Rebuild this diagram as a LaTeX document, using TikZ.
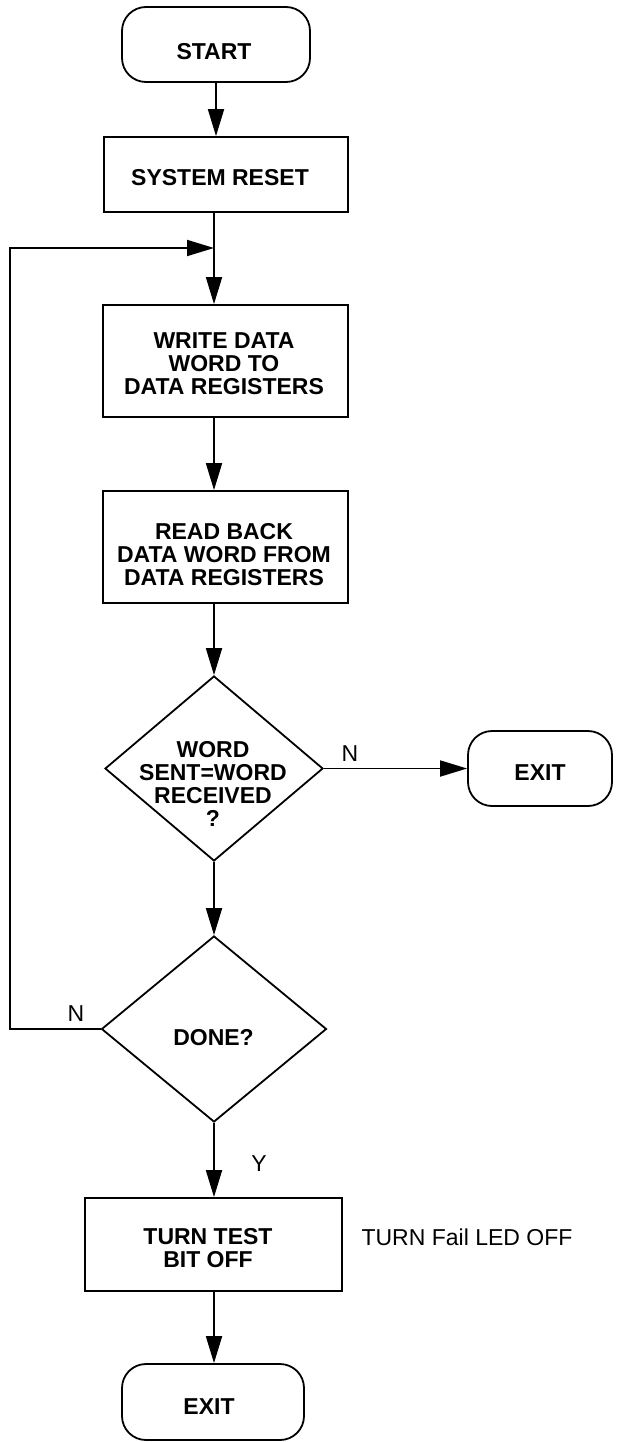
\documentclass[tikz,border=0pt]{standalone}
\usepackage{fontspec}
\setmainfont{Liberation Sans}
\usetikzlibrary{shapes.geometric,arrows.meta}
\begin{document}
\begin{tikzpicture}[x=1pt,y=-1pt,
  line width=1.8pt,
  box/.style={draw, rectangle, inner sep=0pt},
  term/.style={draw, rectangle, rounded corners=24pt, inner sep=0pt},
  dec/.style={draw, diamond, inner sep=0pt},
  lbl/.style={font=\bfseries\fontsize{23}{23}\selectfont, align=center, inner sep=0pt},
  tag/.style={font=\fontsize{23}{23}\selectfont, inner sep=0pt},
  flow/.style={-{Triangle[length=27pt,width=16pt]}}
]
\path[use as bounding box] (0,0) rectangle (626,1442);

% shapes
\node[term, minimum width=188pt, minimum height=75pt] (start) at (216,44.5) {};
\node[box, minimum width=244pt, minimum height=75pt] (reset) at (226,174.5) {};
\node[box, minimum width=245pt, minimum height=112pt] (write) at (225.5,361) {};
\node[box, minimum width=245pt, minimum height=112pt] (read) at (225.5,547) {};
\node[dec, minimum width=218pt, minimum height=185pt] (d1) at (214,768.5) {};
\node[term, minimum width=144pt, minimum height=75pt] (exit1) at (540,768.5) {};
\node[dec, minimum width=225pt, minimum height=186pt] (d2) at (214,1029) {};
\node[box, minimum width=257pt, minimum height=93pt] (turn) at (213.5,1244.5) {};
\node[term, minimum width=182pt, minimum height=76pt] (exit2) at (213,1402) {};

% texts
\node[lbl] (startT) at (214,51.5) {START};
\node[lbl] (resetT) at (220,178) {SYSTEM RESET};
\node[lbl] (writeT) at (224,364) {WRITE DATA\\WORD TO\\DATA REGISTERS};
\node[lbl] (readT) at (224,554.5) {READ BACK\\DATA WORD FROM\\DATA REGISTERS};
\node[lbl] (d1T) at (213,784) {WORD\\SENT=WORD\\RECEIVED\\?};
\node[lbl] (exit1T) at (540,773) {EXIT};
\node[lbl] (d2T) at (213.5,1037.5) {DONE?};
\node[lbl] (turnT) at (208,1248) {TURN TEST\\BIT OFF};
\node[lbl] (exit2T) at (209,1406.5) {EXIT};

\node[tag] (nA) at (350,754) {N};
\node[tag] (nB) at (76,1014) {N};
\node[tag] (yA) at (259,1164) {Y};
\node[tag] (note) at (467,1237) {TURN Fail LED OFF};

% connectors
\coordinate (trunk) at (214,0);
\coordinate (merge) at (214,248);
\coordinate (lc) at (10,248);
\draw[flow] (start.south) -- (start.south |- reset.north);
\draw[flow] (trunk |- reset.south) -- (trunk |- write.north);
\draw[flow] (trunk |- write.south) -- (trunk |- read.north);
\draw[flow] (trunk |- read.south) -- (d1.north);
\draw[flow] (d1.east) -- (exit1.west);
\draw[flow] (d1.south) -- (d2.north);
\draw[flow] (d2.south) -- (d2.south |- turn.north);
\draw[flow] (turn.south -| d2.south) -- (d2.south |- exit2.north);
\draw[flow] (d2.west) -| (lc) -- (merge);
\end{tikzpicture}
\end{document}
